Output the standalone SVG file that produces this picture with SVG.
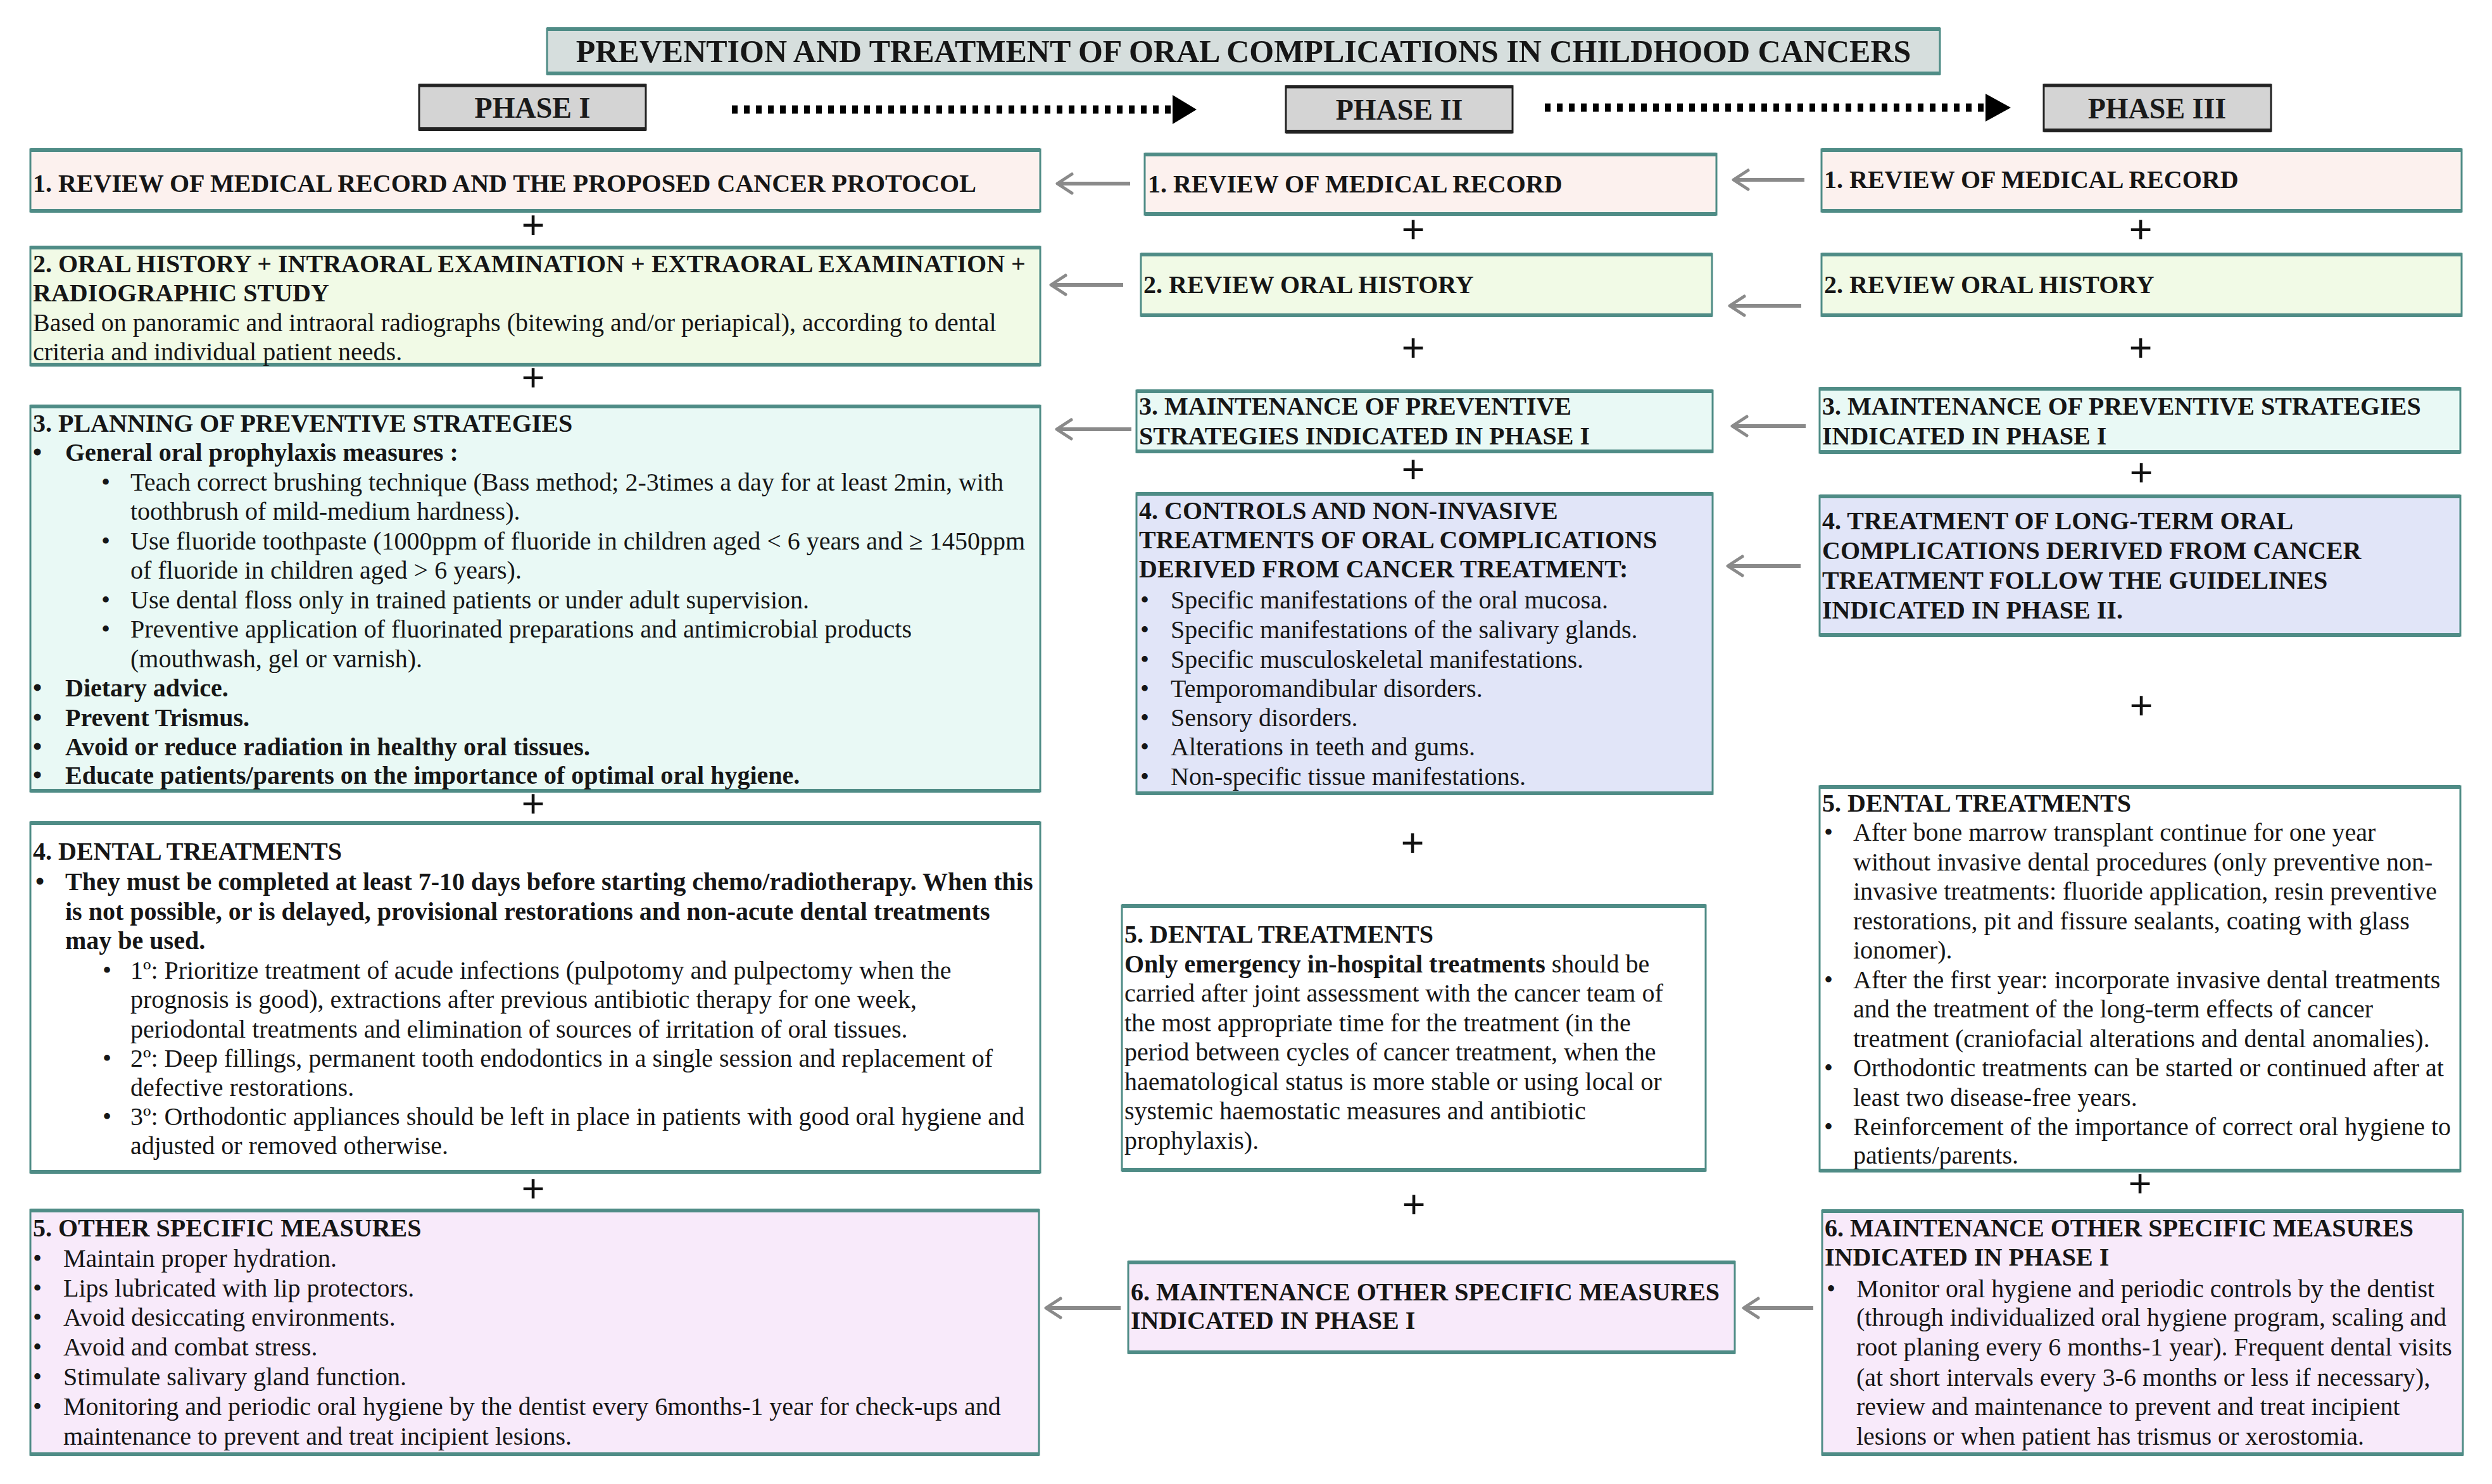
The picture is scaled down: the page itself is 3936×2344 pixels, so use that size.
<svg xmlns="http://www.w3.org/2000/svg" width="3936" height="2344" viewBox="0 0 3936 2344">
<style>
.bx{stroke:#4f8c86;stroke-width:3}
.edge{stroke:#4f8c86;stroke-width:6}
.t{font-family:"Liberation Serif","Times New Roman",serif;font-size:40px;fill:#161616}
.b{font-weight:bold}
.plus{font-family:"Liberation Serif","Times New Roman",serif;font-size:66px;font-weight:bold;text-anchor:middle;fill:#111}
.ph{font-family:"Liberation Serif","Times New Roman",serif;font-size:46px;font-weight:bold;text-anchor:middle;fill:#1a1a1a}
.arr{stroke:#8a8a8a;stroke-width:6;fill:none}
.ah{stroke:#8a8a8a;stroke-width:5;fill:none;stroke-linecap:round;stroke-linejoin:round}
.dot{stroke:#000;stroke-width:13;stroke-dasharray:9 10;fill:none}
.pink{fill:#fcf1ee}.green{fill:#f1fae6}.cyan{fill:#e9f9f5}.blue{fill:#e1e5f8}.white{fill:#ffffff}.lav{fill:#f8eafa}
</style>
<rect width="3936" height="2344" fill="#ffffff"/>

<g id="title">
<rect x="864" y="45" width="2200" height="72" fill="#d6dedd" class="bx"/>
<line x1="864" y1="46" x2="3064" y2="46" class="edge"/><line x1="864" y1="116" x2="3064" y2="116" class="edge"/>
<text x="1964" y="98" class="t b" style="font-size:50px" text-anchor="middle">PREVENTION AND TREATMENT OF ORAL COMPLICATIONS IN CHILDHOOD CANCERS</text>
</g>

<g id="phase1">
<rect x="662" y="134" width="358" height="71" fill="#d4d4d4" stroke="#222" stroke-width="3"/>
<line x1="662" y1="135" x2="1020" y2="135" stroke="#222" stroke-width="5"/><line x1="662" y1="204" x2="1020" y2="204" stroke="#222" stroke-width="6"/>
<text x="841" y="186" class="ph">PHASE I</text>
</g>
<g id="phase2">
<rect x="2031" y="136" width="358" height="73" fill="#d4d4d4" stroke="#222" stroke-width="3"/>
<line x1="2031" y1="137" x2="2389" y2="137" stroke="#222" stroke-width="5"/><line x1="2031" y1="208" x2="2389" y2="208" stroke="#222" stroke-width="6"/>
<text x="2210" y="189" class="ph">PHASE II</text>
</g>
<g id="phase3">
<rect x="3228" y="134" width="359" height="73" fill="#d4d4d4" stroke="#222" stroke-width="3"/>
<line x1="3228" y1="135" x2="3587" y2="135" stroke="#222" stroke-width="5"/><line x1="3228" y1="206" x2="3587" y2="206" stroke="#222" stroke-width="6"/>
<text x="3407" y="187" class="ph">PHASE III</text>
</g>

<g id="connectors">
<path d="M1156 173 H1852" class="dot"/><polygon points="1852,150 1890,173 1852,196" fill="#000"/>
<path d="M2440 170 H3136" class="dot"/><polygon points="3136,148 3176,170 3136,192" fill="#000"/>
<path d="M1674 290 H1785" class="arr"/><path d="M1693 275 L1670 290 L1693 305" class="ah"/>
<path d="M1664 450 H1774" class="arr"/><path d="M1683 435 L1660 450 L1683 465" class="ah"/>
<path d="M1673 678 H1787" class="arr"/><path d="M1692 663 L1669 678 L1692 693" class="ah"/>
<path d="M2742 284 H2850" class="arr"/><path d="M2761 269 L2738 284 L2761 299" class="ah"/>
<path d="M2736 483 H2845" class="arr"/><path d="M2755 468 L2732 483 L2755 498" class="ah"/>
<path d="M2740 673 H2852" class="arr"/><path d="M2759 658 L2736 673 L2759 688" class="ah"/>
<path d="M2733 894 H2844" class="arr"/><path d="M2752 879 L2729 894 L2752 909" class="ah"/>
<path d="M1656 2066 H1770" class="arr"/><path d="M1675 2051 L1652 2066 L1675 2081" class="ah"/>
<path d="M2758 2066 H2864" class="arr"/><path d="M2777 2051 L2754 2066 L2777 2081" class="ah"/>
</g>

<g id="plus-signs">
<text x="842" y="378" class="plus">+</text>
<text x="842" y="619" class="plus">+</text>
<text x="842" y="1292" class="plus">+</text>
<text x="842" y="1900" class="plus">+</text>
<text x="2232" y="385" class="plus">+</text>
<text x="2232" y="572" class="plus">+</text>
<text x="2232" y="764" class="plus">+</text>
<text x="2231" y="1354" class="plus">+</text>
<text x="2233" y="1925" class="plus">+</text>
<text x="3381" y="385" class="plus">+</text>
<text x="3381" y="572" class="plus">+</text>
<text x="3382" y="769" class="plus">+</text>
<text x="3382" y="1137" class="plus">+</text>
<text x="3380" y="1892" class="plus">+</text>
</g>

<g id="p1-box1">
<rect x="48" y="236" width="1595" height="98" class="bx pink"/>
<line x1="48" y1="237" x2="1643" y2="237" class="edge"/><line x1="48" y1="333" x2="1643" y2="333" class="edge"/>
<text x="52" y="303" class="t b">1. REVIEW OF MEDICAL RECORD AND THE PROPOSED CANCER PROTOCOL</text>
</g>

<g id="p1-box2">
<rect x="48" y="390" width="1595" height="187" class="bx green"/>
<line x1="48" y1="391" x2="1643" y2="391" class="edge"/><line x1="48" y1="576" x2="1643" y2="576" class="edge"/>
<text x="52" y="430" class="t b">2. ORAL HISTORY + INTRAORAL EXAMINATION + EXTRAORAL EXAMINATION +</text>
<text x="52" y="476" class="t b">RADIOGRAPHIC STUDY</text>
<text x="52" y="523" class="t">Based on panoramic and intraoral radiographs (bitewing and/or periapical), according to dental</text>
<text x="52" y="569" class="t">criteria and individual patient needs.</text>
</g>

<g id="p1-box3">
<rect x="48" y="641" width="1595" height="609" class="bx cyan"/>
<line x1="48" y1="642" x2="1643" y2="642" class="edge"/><line x1="48" y1="1249" x2="1643" y2="1249" class="edge"/>
<text x="52" y="682" class="t b">3. PLANNING OF PREVENTIVE STRATEGIES</text>
<text x="52" y="728" class="t b">•</text><text x="103" y="728" class="t b">General oral prophylaxis measures :</text>
<text x="160" y="775" class="t">•</text><text x="206" y="775" class="t">Teach correct brushing technique (Bass method; 2-3times a day for at least 2min, with</text>
<text x="206" y="821" class="t">toothbrush of mild-medium hardness).</text>
<text x="160" y="868" class="t">•</text><text x="206" y="868" class="t">Use fluoride toothpaste (1000ppm of fluoride in children aged &lt; 6 years and ≥ 1450ppm</text>
<text x="206" y="914" class="t">of fluoride in children aged &gt; 6 years).</text>
<text x="160" y="961" class="t">•</text><text x="206" y="961" class="t">Use dental floss only in trained patients or under adult supervision.</text>
<text x="160" y="1007" class="t">•</text><text x="206" y="1007" class="t">Preventive application of fluorinated preparations and antimicrobial products</text>
<text x="206" y="1054" class="t">(mouthwash, gel or varnish).</text>
<text x="52" y="1100" class="t b">•</text><text x="103" y="1100" class="t b">Dietary advice.</text>
<text x="52" y="1147" class="t b">•</text><text x="103" y="1147" class="t b">Prevent Trismus.</text>
<text x="52" y="1193" class="t b">•</text><text x="103" y="1193" class="t b">Avoid or reduce radiation in healthy oral tissues.</text>
<text x="52" y="1238" class="t b">•</text><text x="103" y="1238" class="t b">Educate patients/parents on the importance of optimal oral hygiene.</text>
</g>

<g id="p1-box4">
<rect x="48" y="1299" width="1595" height="553" class="bx white"/>
<line x1="48" y1="1300" x2="1643" y2="1300" class="edge"/><line x1="48" y1="1851" x2="1643" y2="1851" class="edge"/>
<text x="52" y="1358" class="t b">4. DENTAL TREATMENTS</text>
<text x="56" y="1406" class="t b">•</text><text x="103" y="1406" class="t b">They must be completed at least 7-10 days before starting chemo/radiotherapy. When this</text>
<text x="103" y="1453" class="t b">is not possible, or is delayed, provisional restorations and non-acute dental treatments</text>
<text x="103" y="1499" class="t b">may be used.</text>
<text x="162" y="1546" class="t">•</text><text x="206" y="1546" class="t">1º: Prioritize treatment of acude infections (pulpotomy and pulpectomy when the</text>
<text x="206" y="1592" class="t">prognosis is good), extractions after previous antibiotic therapy for one week,</text>
<text x="206" y="1639" class="t">periodontal treatments and elimination of sources of irritation of oral tissues.</text>
<text x="162" y="1685" class="t">•</text><text x="206" y="1685" class="t">2º: Deep fillings, permanent tooth endodontics in a single session and replacement of</text>
<text x="206" y="1731" class="t">defective restorations.</text>
<text x="162" y="1777" class="t">•</text><text x="206" y="1777" class="t">3º: Orthodontic appliances should be left in place in patients with good oral hygiene and</text>
<text x="206" y="1823" class="t">adjusted or removed otherwise.</text>
</g>

<g id="p1-box5">
<rect x="48" y="1911" width="1593" height="387" class="bx lav"/>
<line x1="48" y1="1912" x2="1641" y2="1912" class="edge"/><line x1="48" y1="2297" x2="1641" y2="2297" class="edge"/>
<text x="52" y="1953" class="t b">5. OTHER SPECIFIC MEASURES</text>
<text x="52" y="2001" class="t">•</text><text x="100" y="2001" class="t">Maintain proper hydration.</text>
<text x="52" y="2048" class="t">•</text><text x="100" y="2048" class="t">Lips lubricated with lip protectors.</text>
<text x="52" y="2094" class="t">•</text><text x="100" y="2094" class="t">Avoid desiccating environments.</text>
<text x="52" y="2141" class="t">•</text><text x="100" y="2141" class="t">Avoid and combat stress.</text>
<text x="52" y="2188" class="t">•</text><text x="100" y="2188" class="t">Stimulate salivary gland function.</text>
<text x="52" y="2235" class="t">•</text><text x="100" y="2235" class="t">Monitoring and periodic oral hygiene by the dentist every 6months-1 year for check-ups and</text>
<text x="100" y="2282" class="t">maintenance to prevent and treat incipient lesions.</text>
</g>

<g id="p2-box1">
<rect x="1808" y="243" width="903" height="96" class="bx pink"/>
<line x1="1808" y1="244" x2="2711" y2="244" class="edge"/><line x1="1808" y1="338" x2="2711" y2="338" class="edge"/>
<text x="1813" y="304" class="t b">1. REVIEW OF MEDICAL RECORD</text>
</g>
<g id="p2-box2">
<rect x="1802" y="401" width="902" height="98" class="bx green"/>
<line x1="1802" y1="402" x2="2704" y2="402" class="edge"/><line x1="1802" y1="498" x2="2704" y2="498" class="edge"/>
<text x="1806" y="463" class="t b">2. REVIEW ORAL HISTORY</text>
</g>
<g id="p2-box3">
<rect x="1795" y="617" width="910" height="97" class="bx cyan"/>
<line x1="1795" y1="618" x2="2705" y2="618" class="edge"/><line x1="1795" y1="713" x2="2705" y2="713" class="edge"/>
<text x="1799" y="655" class="t b">3. MAINTENANCE OF PREVENTIVE</text>
<text x="1799" y="702" class="t b">STRATEGIES INDICATED IN PHASE I</text>
</g>
<g id="p2-box4">
<rect x="1795" y="779" width="910" height="475" class="bx blue"/>
<line x1="1795" y1="780" x2="2705" y2="780" class="edge"/><line x1="1795" y1="1253" x2="2705" y2="1253" class="edge"/>
<text x="1799" y="820" class="t b">4. CONTROLS AND NON-INVASIVE</text>
<text x="1799" y="866" class="t b">TREATMENTS OF ORAL COMPLICATIONS</text>
<text x="1799" y="912" class="t b">DERIVED FROM CANCER TREATMENT:</text>
<text x="1801" y="961" class="t">•</text><text x="1849" y="961" class="t">Specific manifestations of the oral mucosa.</text>
<text x="1801" y="1008" class="t">•</text><text x="1849" y="1008" class="t">Specific manifestations of the salivary glands.</text>
<text x="1801" y="1055" class="t">•</text><text x="1849" y="1055" class="t">Specific musculoskeletal manifestations.</text>
<text x="1801" y="1101" class="t">•</text><text x="1849" y="1101" class="t">Temporomandibular disorders.</text>
<text x="1801" y="1147" class="t">•</text><text x="1849" y="1147" class="t">Sensory disorders.</text>
<text x="1801" y="1193" class="t">•</text><text x="1849" y="1193" class="t">Alterations in teeth and gums.</text>
<text x="1801" y="1240" class="t">•</text><text x="1849" y="1240" class="t">Non-specific tissue manifestations.</text>
</g>
<g id="p2-box5">
<rect x="1772" y="1430" width="922" height="419" class="bx white"/>
<line x1="1772" y1="1431" x2="2694" y2="1431" class="edge"/><line x1="1772" y1="1848" x2="2694" y2="1848" class="edge"/>
<text x="1776" y="1489" class="t b">5. DENTAL TREATMENTS</text>
<text x="1776" y="1536" class="t"><tspan class="b">Only emergency in-hospital treatments</tspan> should be</text>
<text x="1776" y="1582" class="t">carried after joint assessment with the cancer team of</text>
<text x="1776" y="1629" class="t">the most appropriate time for the treatment (in the</text>
<text x="1776" y="1675" class="t">period between cycles of cancer treatment, when the</text>
<text x="1776" y="1722" class="t">haematological status is more stable or using local or</text>
<text x="1776" y="1768" class="t">systemic haemostatic measures and antibiotic</text>
<text x="1776" y="1815" class="t">prophylaxis).</text>
</g>
<g id="p2-box6">
<rect x="1782" y="1993" width="958" height="144" class="bx lav"/>
<line x1="1782" y1="1994" x2="2740" y2="1994" class="edge"/><line x1="1782" y1="2136" x2="2740" y2="2136" class="edge"/>
<text x="1786" y="2054" class="t b">6. MAINTENANCE OTHER SPECIFIC MEASURES</text>
<text x="1786" y="2099" class="t b">INDICATED IN PHASE I</text>
</g>

<g id="p3-box1">
<rect x="2877" y="236" width="1011" height="98" class="bx pink"/>
<line x1="2877" y1="237" x2="3888" y2="237" class="edge"/><line x1="2877" y1="333" x2="3888" y2="333" class="edge"/>
<text x="2881" y="297" class="t b">1. REVIEW OF MEDICAL RECORD</text>
</g>
<g id="p3-box2">
<rect x="2877" y="401" width="1011" height="98" class="bx green"/>
<line x1="2877" y1="402" x2="3888" y2="402" class="edge"/><line x1="2877" y1="498" x2="3888" y2="498" class="edge"/>
<text x="2881" y="463" class="t b">2. REVIEW ORAL HISTORY</text>
</g>
<g id="p3-box3">
<rect x="2874" y="613" width="1012" height="102" class="bx cyan"/>
<line x1="2874" y1="614" x2="3886" y2="614" class="edge"/><line x1="2874" y1="714" x2="3886" y2="714" class="edge"/>
<text x="2878" y="655" class="t b">3. MAINTENANCE OF PREVENTIVE STRATEGIES</text>
<text x="2878" y="702" class="t b">INDICATED IN PHASE I</text>
</g>
<g id="p3-box4">
<rect x="2874" y="783" width="1012" height="221" class="bx blue"/>
<line x1="2874" y1="784" x2="3886" y2="784" class="edge"/><line x1="2874" y1="1003" x2="3886" y2="1003" class="edge"/>
<text x="2878" y="836" class="t b">4. TREATMENT OF LONG-TERM ORAL</text>
<text x="2878" y="883" class="t b">COMPLICATIONS DERIVED FROM CANCER</text>
<text x="2878" y="930" class="t b">TREATMENT FOLLOW THE GUIDELINES</text>
<text x="2878" y="977" class="t b">INDICATED IN PHASE II.</text>
</g>
<g id="p3-box5">
<rect x="2874" y="1242" width="1012" height="608" class="bx white"/>
<line x1="2874" y1="1243" x2="3886" y2="1243" class="edge"/><line x1="2874" y1="1849" x2="3886" y2="1849" class="edge"/>
<text x="2878" y="1282" class="t b">5. DENTAL TREATMENTS</text>
<text x="2881" y="1328" class="t">•</text><text x="2927" y="1328" class="t">After bone marrow transplant continue for one year</text>
<text x="2927" y="1375" class="t">without invasive dental procedures (only preventive non-</text>
<text x="2927" y="1421" class="t">invasive treatments: fluoride application, resin preventive</text>
<text x="2927" y="1468" class="t">restorations, pit and fissure sealants, coating with glass</text>
<text x="2927" y="1514" class="t">ionomer).</text>
<text x="2881" y="1561" class="t">•</text><text x="2927" y="1561" class="t">After the first year: incorporate invasive dental treatments</text>
<text x="2927" y="1607" class="t">and the treatment of the long-term effects of cancer</text>
<text x="2927" y="1654" class="t">treatment (craniofacial alterations and dental anomalies).</text>
<text x="2881" y="1700" class="t">•</text><text x="2927" y="1700" class="t">Orthodontic treatments can be started or continued after at</text>
<text x="2927" y="1747" class="t">least two disease-free years.</text>
<text x="2881" y="1793" class="t">•</text><text x="2927" y="1793" class="t">Reinforcement of the importance of correct oral hygiene to</text>
<text x="2927" y="1838" class="t">patients/parents.</text>
</g>
<g id="p3-box6">
<rect x="2878" y="1912" width="1012" height="386" class="bx lav"/>
<line x1="2878" y1="1913" x2="3890" y2="1913" class="edge"/><line x1="2878" y1="2297" x2="3890" y2="2297" class="edge"/>
<text x="2882" y="1953" class="t b">6. MAINTENANCE OTHER SPECIFIC MEASURES</text>
<text x="2882" y="1999" class="t b">INDICATED IN PHASE I</text>
<text x="2885" y="2049" class="t">•</text><text x="2932" y="2049" class="t">Monitor oral hygiene and periodic controls by the dentist</text>
<text x="2932" y="2094" class="t">(through individualized oral hygiene program, scaling and</text>
<text x="2932" y="2141" class="t">root planing every 6 months-1 year). Frequent dental visits</text>
<text x="2932" y="2189" class="t">(at short intervals every 3-6 months or less if necessary),</text>
<text x="2932" y="2235" class="t">review and maintenance to prevent and treat incipient</text>
<text x="2932" y="2282" class="t">lesions or when patient has trismus or xerostomia.</text>
</g>
</svg>
